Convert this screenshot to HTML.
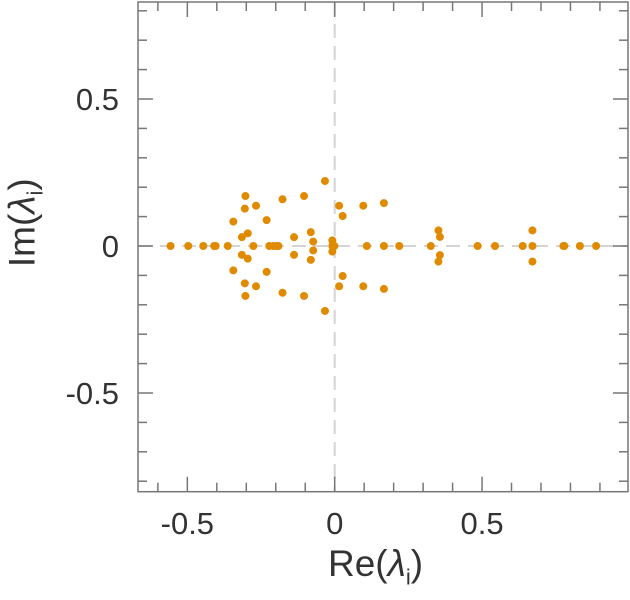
<!DOCTYPE html>
<html><head><meta charset="utf-8"><style>
body{margin:0;background:#fff;}
svg{display:block;font-family:"Liberation Sans",sans-serif;}
</style></head><body>
<svg id="chart" width="630" height="600"></svg>
<script>
const realEigs=[-0.557,-0.497,-0.446,-0.409,-0.404,-0.363,-0.276,-0.222,-0.208,-0.197,-0.191,-0.008,-0.001,0.109,0.167,0.219,0.326,0.485,0.544,0.638,0.671,0.776,0.779,0.832,0.887];
const pairRe=[-0.033,-0.303,-0.177,-0.104,-0.305,-0.267,-0.344,-0.231,-0.315,-0.295,-0.138,-0.081,-0.073,-0.008,0.015,0.027,0.097,0.167,0.352,0.357,0.671];
const pairIm=[0.221,0.170,0.159,0.170,0.127,0.137,0.083,0.088,0.030,0.043,0.030,0.047,0.015,0.019,0.137,0.102,0.137,0.146,0.053,0.031,0.053];
const xTicks=[-0.5,0,0.5];
const xTickLabels=["-0.5","0","0.5"];
const yTicks=[0.5,0,-0.5];
const yTickLabels=["0.5","0","-0.5"];

const NS="http://www.w3.org/2000/svg";
const svg=document.getElementById('chart');
const L=138,R=628,T=2,B=491.7;
const X=v=>334.7+v*294.7;
const Y=v=>246-v*294;
function mk(tag,attrs,parent){const e=document.createElementNS(NS,tag);for(const k in attrs)e.setAttribute(k,attrs[k]);(parent||svg).appendChild(e);return e;}

let zl=mk('line',{x1:X(0),x2:X(0),y1:T,y2:B,stroke:'#d4d4d4','stroke-width':2,'stroke-dasharray':'14,8'});


let zh=mk('line',{x1:L,x2:R,y1:Y(0),y2:Y(0),stroke:'#d4d4d4','stroke-width':2,'stroke-dasharray':'14,8'});



const tg=mk('g',{stroke:'#777','stroke-width':1.5});


for(let i=-6;i<=9;i++){const v=i/10,x=X(v);if(x<L+2||x>R-2)continue;const len=(i%5===0)?15:9;
 mk('line',{x1:x,x2:x,y1:B,y2:B-len},tg);mk('line',{x1:x,x2:x,y1:T,y2:T+len},tg);}
for(let i=-8;i<=8;i++){const v=i/10,y=Y(v);if(y<T+2||y>B-2)continue;const len=(i%5===0)?15:9;
 mk('line',{x1:L,x2:L+len,y1:y,y2:y},tg);mk('line',{x1:R,x2:R-len,y1:y,y2:y},tg);}

let fr=mk('rect',{x:L,y:T,width:R-L,height:B-T,fill:'none',stroke:'#777','stroke-width':1.5});



xTicks.forEach((v,i)=>{const t=mk('text',{x:X(v),y:534,'text-anchor':'middle','font-size':31,fill:'#333'});t.textContent=xTickLabels[i];
 
 });
yTicks.forEach((v,i)=>{const t=mk('text',{x:119,y:Y(v)+11,'text-anchor':'end','font-size':31,fill:'#333'});t.textContent=yTickLabels[i];
 
 });

const pg=mk('g',{fill:'#e08a00'});


realEigs.forEach(v=>{const c=mk('circle',{cx:X(v),cy:Y(0),r:4},pg);
 
 });
pairRe.forEach((v,i)=>{[1,-1].forEach(s=>{const c=mk('circle',{cx:X(v),cy:Y(s*pairIm[i]),r:4},pg);
 
 });});
</script>
<div style="position:absolute;left:328px;top:543px;font:37px 'Liberation Sans',sans-serif;color:#333;white-space:nowrap;">Re(<i>λ</i><sub style="font-size:22px">i</sub>)</div>
<div style="position:absolute;left:-65px;top:199px;width:180px;text-align:center;transform:rotate(-90deg);font:37px 'Liberation Sans',sans-serif;color:#333;white-space:nowrap;">Im(<i>λ</i><sub style="font-size:22px">i</sub>)</div>
</body></html>
